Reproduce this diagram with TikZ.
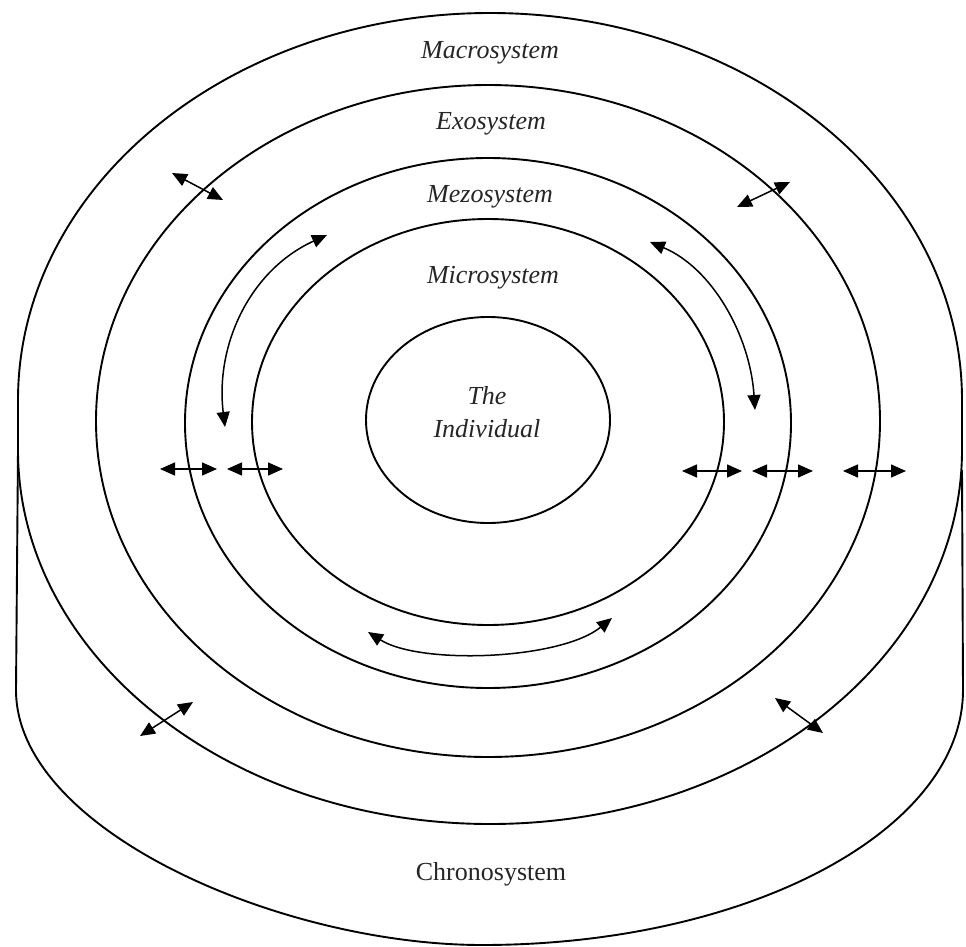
\documentclass[tikz,border=0pt]{standalone}
\usepackage{fontspec}
\setmainfont{Liberation Serif}
\usetikzlibrary{arrows.meta}
\begin{document}
\begin{tikzpicture}[x=1pt,y=-1pt,
  ring/.style={line width=1.9pt, black},
  dblarrow/.style={line width=1.5pt, black, {Triangle[length=15pt,width=13pt]}-{Triangle[length=15pt,width=13pt]}},
  lbl/.style={font=\fontsize{26}{30}\selectfont\itshape, inner sep=0pt, text=black!85},
  lblup/.style={font=\fontsize{26}{30}\selectfont, inner sep=0pt, text=black!85}]
\fill[white] (0,0) rectangle (966,947);
\useasboundingbox (0,0) rectangle (966,947);
% rings
\draw[ring] (488,420) ellipse [x radius=122, y radius=103];
\draw[ring] (488,422) ellipse [x radius=236, y radius=203];
\draw[ring] (488,423) ellipse [x radius=303, y radius=265];
\draw[ring] (488,421) ellipse [x radius=392, y radius=336];
% macrosystem
\draw[ring] (18,400) .. controls (18,186.3) and (229.3,13) .. (490,13)
  .. controls (750.7,13) and (962,186.3) .. (962,400) -- (962,450)
  .. controls (962,656.6) and (750.7,824) .. (490,824)
  .. controls (229.3,824) and (18,656.6) .. (18,450) -- cycle;
% chronosystem
\draw[ring] (18,450) -- (16,690) .. controls (16,830.8) and (282,945) .. (482,945)
  .. controls (747.7,945) and (963,830.8) .. (963,690) -- (962,470);
% labels
\node[lbl] (macro) at (490,53) {Macrosystem};
\node[lbl] (exo) at (491,124) {Exosystem};
\node[lbl] (mezo) at (490,197) {Mezosystem};
\node[lbl] (micro) at (493,278) {Microsystem};
\node[lbl] (the) at (487,396) {The};
\node[lbl] (indiv) at (487,429) {Individual};
\node[lblup] (chrono) at (491,874) {Chronosystem};
% arrow end points
\coordinate (a1s) at (172,173); \coordinate (a1e) at (223,200);
\coordinate (a2s) at (737,207); \coordinate (a2e) at (790,182);
\coordinate (c1s) at (327,235); \coordinate (c1e) at (225,427);
\coordinate (c2s) at (650,242); \coordinate (c2e) at (755,410);
\coordinate (c3s) at (368,632); \coordinate (c3e) at (612,618);
\coordinate (h1s) at (160,469); \coordinate (h1e) at (217,469);
\coordinate (h2s) at (227,469); \coordinate (h2e) at (283,469);
\coordinate (h3s) at (682,471); \coordinate (h3e) at (742,471);
\coordinate (h4s) at (752,471); \coordinate (h4e) at (813,471);
\coordinate (h5s) at (843,471); \coordinate (h5e) at (906,471);
\coordinate (d1s) at (140,736); \coordinate (d1e) at (193,702);
\coordinate (d2s) at (775,698); \coordinate (d2e) at (823,733);
% arrows
\draw[dblarrow] (a1s) -- (a1e);
\draw[dblarrow] (a2s) -- (a2e);
\draw[dblarrow] (c1s) .. controls (250,270) and (215,345) .. (c1e);
\draw[dblarrow] (c2s) .. controls (712,268) and (750,335) .. (c2e);
\draw[dblarrow] (c3s) .. controls (420,665) and (560,660) .. (c3e);
\draw[dblarrow] (h1s) -- (h1e);
\draw[dblarrow] (h2s) -- (h2e);
\draw[dblarrow] (h3s) -- (h3e);
\draw[dblarrow] (h4s) -- (h4e);
\draw[dblarrow] (h5s) -- (h5e);
\draw[dblarrow] (d1s) -- (d1e);
\draw[dblarrow] (d2s) -- (d2e);
\end{tikzpicture}
\end{document}
